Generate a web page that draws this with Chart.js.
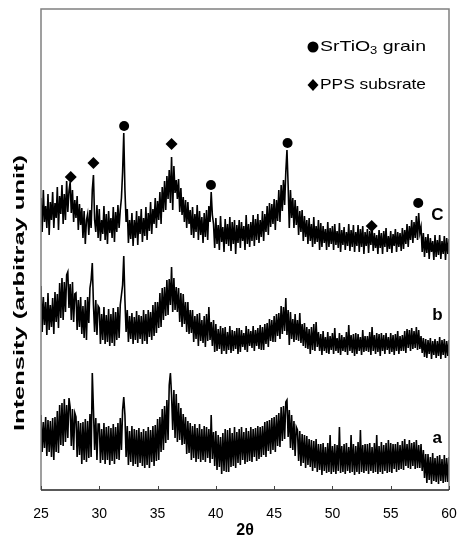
<!DOCTYPE html>
<html><head><meta charset="utf-8">
<script src="https://cdn.jsdelivr.net/npm/chart.js@4.4.1/dist/chart.umd.min.js"></script>
<style>html,body{margin:0;padding:0;background:#fff;}#wrap{width:458px;height:544px;}</style>
</head><body><div id="wrap"><canvas id="c" width="458" height="544"></canvas></div>
<script>
// 2θ sampling grid of the traces (degrees)
const START = 25, STEP = 0.1;
const xTicks = [25, 30, 35, 40, 45, 50, 55, 60];

// Trace C (top), intensity, one row per degree
const cTrace = [
292,258,300,268,284,262,296,255,288,270,
298,262,287,272,303,260,294,276,305,266,
296,270,309,278,299,308,277,300,268,290,
272,294,260,286,265,282,252,279,246,270,
276,255,280,262,300,315,270,258,285,252,
281,249,270,256,284,250,276,246,279,257,
272,252,283,248,278,258,285,262,280,292,
318,357,300,268,281,247,270,251,277,244,
270,252,279,245,274,256,281,248,272,254,
283,250,277,259,288,256,281,266,292,262,
289,270,298,266,303,278,309,280,314,291,
320,287,333,280,324,297,310,291,311,278,
302,275,293,268,290,262,288,266,280,255,
283,252,276,258,285,250,279,255,273,247,
277,253,280,250,284,268,298,275,266,242,
272,246,265,240,274,248,263,238,271,246,
266,244,273,239,268,246,270,236,265,247,
270,242,268,249,264,240,275,246,266,243,
268,249,275,244,271,250,276,247,270,253,
279,249,276,258,284,255,287,263,286,266,
291,260,290,269,300,268,305,279,310,285,
318,340,305,262,300,272,292,262,290,265,
284,255,279,258,280,249,274,253,270,246,
272,249,266,243,273,246,264,248,270,240,
267,243,264,247,261,240,268,243,262,246,
264,240,266,245,259,242,267,238,260,245,
263,240,258,244,266,239,260,243,265,238,
258,244,265,238,261,243,264,236,258,244,
261,237,259,245,263,239,257,242,255,236,
260,242,257,236,259,243,262,238,254,241,
259,237,256,244,261,238,258,243,257,239,
262,241,260,246,266,243,264,250,270,247,
268,252,274,250,277,257,263,238,257,233,
253,237,256,231,252,238,249,230,255,233,
250,235,255,231,249,236,254,230,252,236,
251];

// Trace b (middle)
const bTrace = [
204,158,193,165,188,155,197,160,185,163,
192,156,198,168,196,162,207,172,212,170,
208,178,215,218,182,206,170,208,168,196,
197,160,190,163,193,156,184,152,190,150,
193,167,202,210,227,185,158,190,155,184,
182,146,176,150,183,146,175,148,181,144,
176,147,182,144,178,150,183,152,185,195,
205,234,190,158,180,148,174,151,177,146,
173,150,179,147,175,151,174,146,180,149,
176,146,180,153,178,150,185,154,188,157,
188,162,197,163,202,170,203,174,210,175,
211,185,223,178,212,180,203,178,202,168,
197,163,196,166,188,158,188,156,180,157,
180,148,174,151,176,144,177,149,170,147,
174,143,176,149,183,150,168,144,170,138,
166,139,161,141,164,136,162,139,163,136,
158,140,164,137,160,139,159,141,162,136,
162,138,160,143,157,140,164,138,161,144,
159,142,164,139,160,144,162,141,165,140,
163,140,166,146,167,143,171,149,170,148,
174,148,176,154,177,151,184,156,183,159,
192,155,180,145,178,151,171,148,176,150,
170,149,177,147,166,144,167,142,163,141,
161,136,163,140,166,139,168,143,158,139,
156,135,159,139,153,137,158,136,154,140,
157,136,162,139,152,137,157,135,155,139,
153,138,158,135,165,139,155,137,156,134,
157,136,156,139,153,135,160,138,154,139,
154,138,158,135,163,139,155,136,157,138,
156,134,157,139,155,136,157,140,153,136,
157,138,155,135,156,139,159,136,154,139,
155,139,159,137,161,142,160,139,162,141,
159,142,163,140,160,141,154,137,152,133,
151,132,150,136,152,131,149,135,151,132,
149,134,153,131,150,135,151,132,149,134,
150];

// Trace a (bottom)
const aTrace = [
75,38,68,42,73,34,70,38,69,33,
72,30,73,38,79,37,85,45,87,44,
91,48,85,52,92,83,44,81,40,77,
73,33,69,35,67,26,68,30,71,28,
69,32,76,33,117,80,40,72,30,66,
66,27,61,30,67,26,63,30,64,25,
62,29,66,26,63,31,67,30,72,40,
80,93,75,33,64,25,59,28,64,24,
61,26,60,23,62,27,58,24,61,22,
59,25,63,22,60,28,64,24,65,29,
71,30,73,38,81,40,84,47,90,50,
105,117,95,60,100,52,96,48,87,50,
82,45,76,46,73,36,69,37,67,30,
64,32,66,28,62,31,66,28,61,30,
64,28,63,32,61,27,75,31,58,24,
59,20,55,23,53,16,57,19,61,18,
60,18,62,23,57,24,63,22,58,27,
61,25,63,30,58,26,62,28,59,29,
63,28,61,33,62,29,64,31,63,33,
64,35,68,33,69,39,70,36,72,40,
73,38,75,44,77,43,83,49,84,51,
88,90,53,80,42,75,40,69,34,63,
60,29,59,24,56,27,55,22,54,25,
51,23,50,19,49,22,51,18,46,20,
46,15,47,19,43,17,47,18,55,16,
44,18,46,16,45,19,63,17,44,18,
46,16,47,19,43,17,55,18,46,15,
44,18,48,16,60,18,45,17,46,19,
46,16,47,19,43,17,47,18,55,16,
44,18,48,16,45,19,47,17,50,18,
47,17,46,21,46,18,48,20,45,21,
49,20,51,24,46,22,50,21,47,24,
48,21,50,22,45,22,46,19,40,12,
36,7,36,10,33,6,37,9,32,8,
34,6,35,9,31,7,35,8,32,8,
33];

// Peak markers
const srtioPos = [32.13, 39.58, 46.15, 57.36];
const srtioHeight = [364, 305, 347, 287];
const ppsPos = [27.55, 29.5, 36.2, 53.37];
const ppsHeight = [313, 327, 346, 264];

// Trace labels
const traceNames = ['C', 'b', 'a'];
const traceNameX = 59;
const traceNameY = [275, 175, 52];

const legendItems = ['SrTiO', 'PPS subsrate'];
const yTitle = 'Intensity (arbitray unit)';
const xTitle = '2\u03B8';

const twoTheta = cTrace.map((_, i) => +(START + i * STEP).toFixed(2));
const toXY = arr => arr.map((v, i) => ({x: twoTheta[i], y: v}));
const pts = (xs, ys) => xs.map((x, i) => ({x, y: ys[i]}));

const FONT = '"Liberation Sans", Arial, sans-serif';

const lineDs = (data) => ({data: toXY(data), borderColor: '#000', borderWidth: 1.6, pointRadius: 0, tension: 0, fill: false});

const decor = {
  id: 'decor',
  afterDraw(chart) {
    const {ctx, chartArea: {left, right, top, bottom}, scales: {x, y}} = chart;
    ctx.save();
    // frame
    ctx.strokeStyle = '#808080'; ctx.lineWidth = 1.5;
    ctx.beginPath(); ctx.moveTo(left, bottom); ctx.lineTo(left, top); ctx.lineTo(right, top); ctx.lineTo(right, bottom); ctx.stroke();
    ctx.strokeStyle = '#222'; ctx.lineWidth = 1.5;
    ctx.beginPath(); ctx.moveTo(left, bottom); ctx.lineTo(right, bottom); ctx.stroke();
    // inward ticks
    ctx.lineWidth = 1; ctx.strokeStyle = '#444';
    ctx.beginPath();
    xTicks.forEach(t => { const px = Math.round(x.getPixelForValue(t)) + 0.5; ctx.moveTo(px, bottom); ctx.lineTo(px, bottom - 4); });
    ctx.stroke();

    // y title (rotated, stretched along its length)
    ctx.fillStyle = '#000';
    ctx.font = 'bold 14px ' + FONT;
    const w = ctx.measureText(yTitle).width;
    ctx.translate(20, 293);
    ctx.rotate(-Math.PI / 2);
    ctx.scale(276 / w, 1);
    ctx.textAlign = 'center'; ctx.textBaseline = 'middle';
    ctx.fillText(yTitle, 0, 0);
    ctx.restore();

    // legend
    ctx.save();
    ctx.fillStyle = '#000';
    ctx.beginPath(); ctx.arc(313, 47, 5.5, 0, Math.PI * 2); ctx.fill();
    ctx.beginPath(); ctx.moveTo(313, 79); ctx.lineTo(318.5, 85); ctx.lineTo(313, 91); ctx.lineTo(307.5, 85); ctx.closePath(); ctx.fill();
    ctx.textBaseline = 'middle'; ctx.textAlign = 'left';
    ctx.font = '15px ' + FONT;
    const w1 = ctx.measureText(legendItems[0]).width;
    ctx.font = '10px ' + FONT;
    const w2 = ctx.measureText('3').width;
    ctx.font = '15px ' + FONT;
    const w3 = ctx.measureText(' grain').width;
    const s1 = 106 / (w1 + w2 + w3);
    ctx.save(); ctx.translate(320, 47); ctx.scale(s1, 1);
    ctx.fillText(legendItems[0], 0, 0);
    ctx.font = '10px ' + FONT; ctx.fillText('3', w1, 4);
    ctx.font = '15px ' + FONT; ctx.fillText(' grain', w1 + w2, 0);
    ctx.restore();
    const w4 = ctx.measureText(legendItems[1]).width;
    ctx.save(); ctx.translate(320, 85); ctx.scale(106 / w4, 1);
    ctx.fillText(legendItems[1], 0, 0);
    ctx.restore();

    // trace labels
    ctx.font = 'bold 17px ' + FONT; ctx.textAlign = 'center';
    traceNames.forEach((n, i) => ctx.fillText(n, x.getPixelForValue(traceNameX), y.getPixelForValue(traceNameY[i])));
    ctx.restore();
  }
};

new Chart(document.getElementById('c'), {
  type: 'line',
  data: {
    datasets: [
      lineDs(cTrace), lineDs(bTrace), lineDs(aTrace),
      {data: pts(srtioPos, srtioHeight), showLine: false, pointStyle: 'circle', pointRadius: 5, pointBackgroundColor: '#000', pointBorderColor: '#000', borderWidth: 0},
      {data: pts(ppsPos, ppsHeight), showLine: false, pointStyle: 'rectRot', pointRadius: 6, pointBackgroundColor: '#000', pointBorderColor: '#000', borderWidth: 0}
    ]
  },
  options: {
    responsive: false, animation: false, devicePixelRatio: 1,
    layout: {padding: {left: 41, top: 9, right: 9, bottom: 0}},
    plugins: {legend: {display: false}, tooltip: {enabled: false}},
    scales: {
      x: {
        type: 'linear', min: 25, max: 60,
        afterBuildTicks: s => { s.ticks = xTicks.map(v => ({value: v})); },
        afterFit: s => { s.height = 54; s.paddingLeft = 0; s.paddingRight = 0; },
        grid: {display: false, drawTicks: false},
        border: {display: false},
        ticks: {padding: 16, color: '#000', font: {family: FONT, size: 14}, maxRotation: 0},
        title: {display: true, text: xTitle, color: '#000', font: {family: FONT, size: 16, weight: 'bold'}, padding: {top: 0, bottom: 4}}
      },
      y: {display: false, min: 0, max: 481}
    }
  },
  plugins: [decor]
});
</script></body></html>
